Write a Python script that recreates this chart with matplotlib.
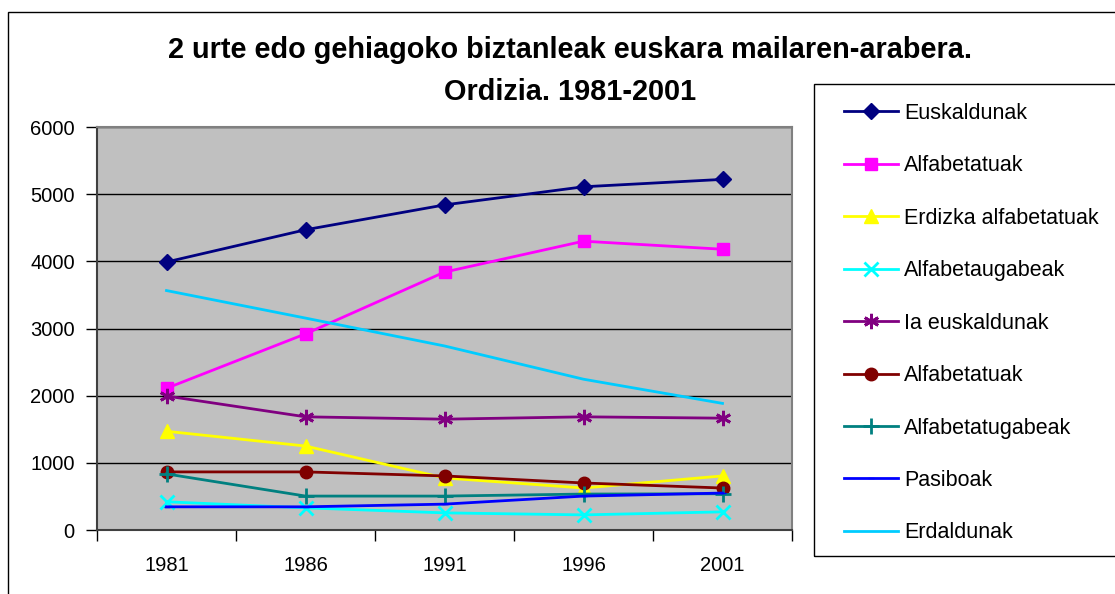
import numpy as np
import matplotlib
matplotlib.use("Agg")
import matplotlib.pyplot as plt
from matplotlib.patches import Rectangle

plt.rcParams['font.family'] = ['Liberation Sans', 'DejaVu Sans']

years = ['1981', '1986', '1991', '1996', '2001']

euskaldunak = [3990, 4470, 4840, 5110, 5220]
alfabetatuak = [2110, 2920, 3840, 4300, 4180]
erdizka_alfabetatuak = [1470, 1250, 775, 625, 805]
alfabetaugabeak = [420, 330, 255, 225, 270]
ia_euskaldunak = [1995, 1685, 1650, 1685, 1665]
ia_alfabetatuak = [865, 865, 805, 700, 625]
ia_alfabetatugabeak = [835, 505, 505, 535, 540]
pasiboak = [345, 345, 385, 505, 550]
erdaldunak = [3565, 3155, 2740, 2245, 1885]

labels = ['Euskaldunak', 'Alfabetatuak', 'Erdizka alfabetatuak', 'Alfabetaugabeak',
          'Ia euskaldunak', 'Alfabetatuak', 'Alfabetatugabeak', 'Pasiboak', 'Erdaldunak']
series = [euskaldunak, alfabetatuak, erdizka_alfabetatuak, alfabetaugabeak,
          ia_euskaldunak, ia_alfabetatuak, ia_alfabetatugabeak, pasiboak, erdaldunak]
colors = ['#000080', '#FF00FF', '#FFFF00', '#00FFFF', '#800080',
          '#800000', '#008080', '#0000FF', '#00CCFF']
markers = ['D', 's', '^', 'x', (6, 2, 0), 'o', '+', '_', None]
msizes = [8, 9, 10, 10, 11, 9, 11, 4, 0]

fig = plt.figure(figsize=(11.15, 5.94), dpi=100)
ax = fig.add_axes([97 / 1115, 64 / 594, 695 / 1115, 403 / 594])
ax.set_facecolor('#C0C0C0')

x = np.arange(len(years))
handles = []
for vals, lab, c, m, ms in zip(series, labels, colors, markers, msizes):
    h, = ax.plot(x, vals, color=c, lw=2, marker=m, markersize=ms,
                 markeredgewidth=2 if m in ('x', '+', (6, 2, 0)) else 1,
                 label=lab)
    handles.append(h)

ax.set_ylim(0, 6000)
ax.set_xlim(-0.5, len(years) - 0.5)
ax.set_yticks(np.arange(0, 6001, 1000))
ax.yaxis.grid(True, color='black', lw=1)
ax.set_axisbelow(True)

ax.set_xticks(np.arange(-0.5, len(years), 1.0))
ax.set_xticklabels([])
ax.set_xticks(x, minor=True)
ax.set_xticklabels(years, minor=True)
ax.tick_params(axis='x', which='major', length=8, width=1, direction='out')
ax.tick_params(axis='x', which='minor', length=0, pad=19, labelsize=14.5)
ax.tick_params(axis='y', length=8, width=1, pad=8, labelsize=14.5)

for s in ['top', 'right']:
    ax.spines[s].set_color('#808080')
    ax.spines[s].set_linewidth(1.5)
for s in ['left', 'bottom']:
    ax.spines[s].set_color('#404040')
    ax.spines[s].set_linewidth(1.5)

fig.text(570 / 1115, 1 - 71 / 594, '2 urte edo gehiagoko biztanleak euskara mailaren-arabera.\nOrdizia. 1981-2001',
         ha='center', va='center', fontsize=20.8, fontweight='bold', linespacing=1.6)

# outer chart frame
fig.patches.append(Rectangle((8 / 1115, -0.1), 1.2, 1 - 12 / 594 + 0.1, transform=fig.transFigure,
                             fill=False, edgecolor='black', lw=1))
# legend frame
fig.patches.append(Rectangle((814 / 1115, 1 - 556 / 594), 0.3, 472 / 594, transform=fig.transFigure,
                             fill=False, edgecolor='black', lw=1))

fig.legend(handles=handles, loc='upper left', bbox_to_anchor=(844 / 1115, 1 - 103 / 594),
           frameon=False, fontsize=15.5, handlelength=2.5, handletextpad=0.3,
           labelspacing=1.46, borderpad=0, borderaxespad=0)

fig.savefig('out.png', dpi=100)
